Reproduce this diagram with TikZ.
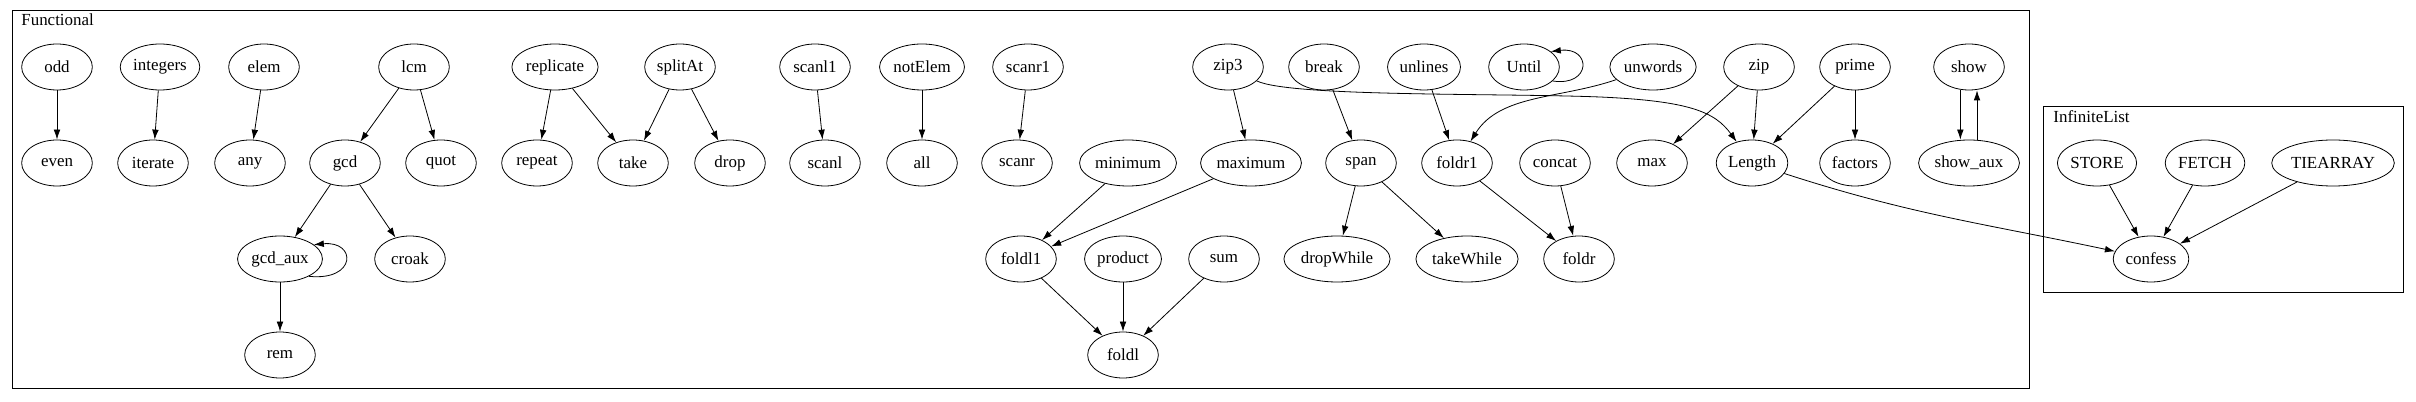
\documentclass[tikz,border=0pt]{standalone}
\usepackage{fontspec}
\setmainfont{Liberation Serif}
\usetikzlibrary{shapes.geometric,arrows.meta,positioning}

\tikzset{
  fn/.style={draw, ellipse, minimum width=53pt, minimum height=34.5pt, inner xsep=1pt, inner ysep=0pt},
  cluster/.style={draw, line width=0.75pt},
  title/.style={anchor=north west, inner sep=0pt},
}

\begin{document}
\begin{tikzpicture}[x=0.75pt, y=-0.75pt, node distance=72pt, line width=0.6pt,
    >={Latex[length=7.5pt,width=5pt]}, font=\fontsize{12.7}{15}\selectfont]
    \useasboundingbox (0,0) rectangle (2416,402);
    % clusters
    \draw[cluster] (12,11) rectangle (2029,389);
    \node[title] (functional) at (21,13) {Functional};
    \draw[cluster] (2043,107) rectangle (2403,293);
    \node[title] (infinitelist) at (2053,110) {InfiniteList};

    % top row
    \node[fn] (odd) at (57,67) {odd};
    \node[fn] (integers) at (160,67) {integers};
    \node[fn] (elem) at (264,67) {elem};
    \node[fn] (lcm) at (414,67) {lcm};
    \node[fn] (replicate) at (555,67) {replicate};
    \node[fn] (splitat) at (680,67) {splitAt};
    \node[fn] (scanl1) at (815,67) {scanl1};
    \node[fn] (notelem) at (922,67) {notElem};
    \node[fn] (scanr1) at (1028,67) {scanr1};
    \node[fn] (zip3) at (1228,67) {zip3};
    \node[fn] (break) at (1324,67) {break};
    \node[fn] (unlines) at (1424,67) {unlines};
    \node[fn] (until) at (1524,67) {Until};
    \node[fn] (unwords) at (1653,67) {unwords};
    \node[fn] (zip) at (1759,67) {zip};
    \node[fn] (prime) at (1855,67) {prime};
    \node[fn] (show) at (1969,67) {show};

    % second row
    \node[fn, below of=odd] (even) {even};
    \node[fn] (iterate) at (153,163) {iterate};
    \node[fn] (any) at (250,163) {any};
    \node[fn] (gcd) at (345,163) {gcd};
    \node[fn] (quot) at (441,163) {quot};
    \node[fn] (repeat) at (537,163) {repeat};
    \node[fn] (take) at (633,163) {take};
    \node[fn] (drop) at (730,163) {drop};
    \node[fn] (scanl) at (825,163) {scanl};
    \node[fn, below of=notelem] (all) {all};
    \node[fn] (scanr) at (1017,163) {scanr};
    \node[fn] (minimum) at (1128,163) {minimum};
    \node[fn] (maximum) at (1251,163) {maximum};
    \node[fn] (span) at (1361,163) {span};
    \node[fn] (foldr1) at (1457,163) {foldr1};
    \node[fn] (concat) at (1555,163) {concat};
    \node[fn] (max) at (1652,163) {max};
    \node[fn] (length) at (1752,163) {Length};
    \node[fn, below of=prime] (factors) {factors};
    \node[fn, below of=show] (showaux) {show\_aux};

    % third row
    \node[fn] (gcdaux) at (280,259) {gcd\_aux};
    \node[fn] (croak) at (410,259) {croak};
    \node[fn] (foldl1) at (1021,259) {foldl1};
    \node[fn] (product) at (1123,259) {product};
    \node[fn] (sum) at (1224,259) {sum};
    \node[fn] (dropwhile) at (1337,259) {dropWhile};
    \node[fn] (takewhile) at (1467,259) {takeWhile};
    \node[fn] (foldr) at (1579,259) {foldr};

    % bottom row
    \node[fn, below of=gcdaux] (rem) {rem};
    \node[fn, below of=product] (foldl) {foldl};

    % InfiniteList
    \node[fn] (store) at (2097,163) {STORE};
    \node[fn] (fetch) at (2205,163) {FETCH};
    \node[fn] (tiearray) at (2333,163) {TIEARRAY};
    \node[fn] (confess) at (2151,259) {confess};

    \draw[->] (odd) -- (even);
    \draw[->] (integers) -- (iterate);
    \draw[->] (elem) -- (any);
    \draw[->] (lcm) -- (gcd);
    \draw[->] (lcm) -- (quot);
    \draw[->] (gcd) -- (gcdaux);
    \draw[->] (gcd) -- (croak);
    \draw[->] (gcdaux.-31) .. controls +(48,5) and +(43,-4) .. (gcdaux.23);
    \draw[->] (gcdaux) -- (rem);
    \draw[->] (replicate) -- (repeat);
    \draw[->] (replicate) -- (take);
    \draw[->] (splitat) -- (take);
    \draw[->] (splitat) -- (drop);
    \draw[->] (scanl1) -- (scanl);
    \draw[->] (notelem) -- (all);
    \draw[->] (scanr1) -- (scanr);
    \draw[->] (zip3) -- (maximum);
    \draw[->] (zip3) .. controls (1290,97) and (1500,93) .. (1600,97) .. controls (1690,101) and (1715,112) .. (length);
    \draw[->] (break) -- (span);
    \draw[->] (unlines) -- (foldr1);
    \draw[->] (unwords) .. controls (1560,99) and (1500,94) .. (foldr1);
    \draw[->] (until.-26) .. controls +(39,6) and +(41,-5) .. (until.30);
    \draw[->] (zip) -- (max);
    \draw[->] (zip) -- (length);
    \draw[->] (prime) -- (length);
    \draw[->] (prime) -- (factors);
    \draw[->] ([xshift=-6.5pt]show.south) -- ([xshift=-6.5pt]showaux.north);
    \draw[->] ([xshift=6pt]showaux.north) -- ([xshift=6pt]show.south);
    \draw[->] (minimum) -- (foldl1);
    \draw[->] (maximum) -- (foldl1);
    \draw[->] (span) -- (dropwhile);
    \draw[->] (span) -- (takewhile);
    \draw[->] (foldr1) -- (foldr);
    \draw[->] (concat) -- (foldr);
    \draw[->] (foldl1) -- (foldl);
    \draw[->] (product) -- (foldl);
    \draw[->] (sum) -- (foldl);
    \draw[->] (length) to[out=-18, in=168] (confess);
    \draw[->] (store) -- (confess);
    \draw[->] (fetch) -- (confess);
    \draw[->] (tiearray) -- (confess);
\end{tikzpicture}
\end{document}
